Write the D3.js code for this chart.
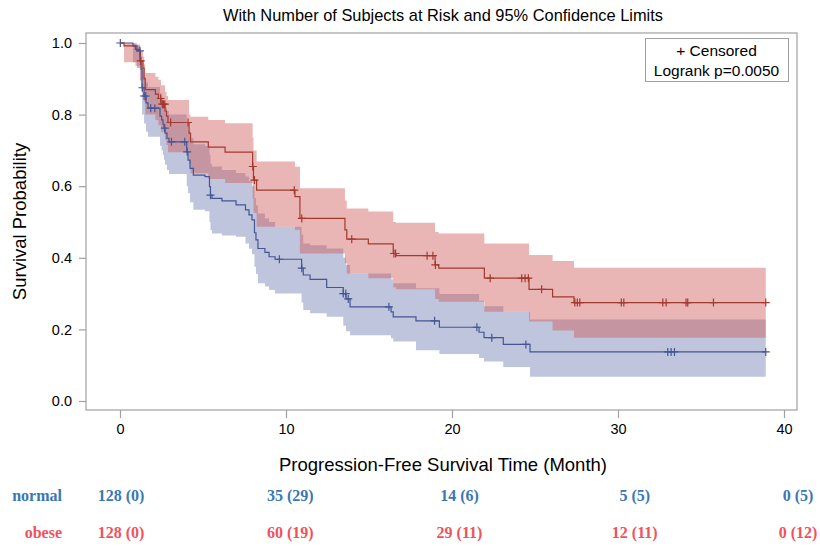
<!DOCTYPE html>
<html>
<head>
<meta charset="utf-8">
<script src="https://cdn.jsdelivr.net/npm/d3@7/dist/d3.min.js"></script>
<style>
  html, body { margin: 0; padding: 0; background: #fff; }
  svg { display: block; font-family: "Liberation Sans", Arial, sans-serif; }
</style>
</head>
<body>
<svg id="chart" width="820" height="548"></svg>
<script>
// Kaplan-Meier estimates (step values start at each time), 95% limits, censor times
const endTime = 38.9;

const normalTime  = [0, 0.78, 1.02, 1.23, 1.27, 1.33, 1.45, 1.57, 1.69, 2.41, 2.51, 2.59, 2.65, 2.71, 2.83, 2.95, 4.02, 4.10, 4.22, 4.42, 5.12, 5.39, 5.45, 5.54, 6.14, 6.99, 7.56, 7.77, 7.95, 8.10, 8.19, 8.31, 8.73, 8.98, 9.34, 10.94, 11.04, 11.45, 12.45, 13.45, 13.61, 13.86, 16.33, 16.46, 17.83, 19.24, 21.63, 21.93, 23.09, 24.70];
const normalSurv  = [1.0, 0.992, 0.978, 0.95, 0.927, 0.875, 0.852, 0.833, 0.818, 0.796, 0.785, 0.773, 0.762, 0.748, 0.734, 0.724, 0.696, 0.673, 0.65, 0.631, 0.627, 0.599, 0.575, 0.566, 0.559, 0.548, 0.534, 0.52, 0.506, 0.47, 0.45, 0.426, 0.415, 0.403, 0.396, 0.371, 0.352, 0.34, 0.317, 0.30, 0.285, 0.263, 0.249, 0.235, 0.224, 0.206, 0.192, 0.177, 0.158, 0.137];
const normalLower = [1.0, 0.946, 0.93, 0.895, 0.865, 0.80, 0.775, 0.752, 0.738, 0.713, 0.70, 0.687, 0.674, 0.66, 0.645, 0.634, 0.60, 0.58, 0.555, 0.534, 0.53, 0.50, 0.478, 0.468, 0.462, 0.459, 0.44, 0.425, 0.41, 0.375, 0.355, 0.329, 0.32, 0.31, 0.30, 0.275, 0.254, 0.245, 0.235, 0.21, 0.195, 0.184, 0.175, 0.166, 0.142, 0.131, 0.12, 0.11, 0.095, 0.068];
const normalUpper = [1.0, 0.999, 0.993, 0.977, 0.962, 0.923, 0.905, 0.89, 0.877, 0.86, 0.85, 0.84, 0.832, 0.82, 0.81, 0.80, 0.775, 0.755, 0.735, 0.717, 0.712, 0.688, 0.663, 0.655, 0.645, 0.637, 0.627, 0.614, 0.60, 0.567, 0.547, 0.524, 0.51, 0.50, 0.487, 0.465, 0.44, 0.435, 0.426, 0.40, 0.38, 0.356, 0.34, 0.329, 0.315, 0.299, 0.28, 0.265, 0.249, 0.228];
const normalCensor = [0.02, 1.2, 1.35, 1.45, 1.55, 1.85, 2.1, 2.7, 3.1, 3.9, 4.05, 5.45, 9.6, 10.95, 13.45, 13.6, 13.75, 16.2, 18.95, 21.5, 22.4, 24.45, 33.0, 33.2, 33.4, 38.9];

const obeseTime  = [0, 0.24, 0.93, 1.2, 1.38, 1.45, 1.52, 2.13, 2.31, 2.47, 2.71, 2.80, 2.89, 4.16, 4.25, 5.32, 6.33, 7.99, 8.04, 8.23, 10.54, 10.84, 13.55, 13.66, 14.96, 16.46, 16.63, 18.98, 19.2, 21.95, 24.64, 26.06, 27.35];
const obeseSurv  = [1.0, 0.992, 0.982, 0.95, 0.93, 0.90, 0.87, 0.857, 0.845, 0.829, 0.81, 0.796, 0.778, 0.748, 0.724, 0.709, 0.695, 0.655, 0.617, 0.589, 0.571, 0.51, 0.478, 0.452, 0.439, 0.412, 0.406, 0.38, 0.371, 0.343, 0.312, 0.291, 0.275];
const obeseLower = [1.0, 0.946, 0.935, 0.895, 0.87, 0.835, 0.80, 0.785, 0.77, 0.752, 0.73, 0.715, 0.695, 0.662, 0.636, 0.62, 0.609, 0.565, 0.525, 0.487, 0.478, 0.412, 0.385, 0.356, 0.343, 0.318, 0.312, 0.285, 0.277, 0.249, 0.222, 0.197, 0.177];
const obeseUpper = [1.0, 0.999, 0.996, 0.978, 0.962, 0.94, 0.916, 0.906, 0.897, 0.882, 0.864, 0.852, 0.841, 0.80, 0.794, 0.785, 0.776, 0.735, 0.70, 0.669, 0.654, 0.594, 0.56, 0.538, 0.529, 0.50, 0.498, 0.472, 0.468, 0.44, 0.408, 0.391, 0.372];
const obeseCensor = [1.25, 2.45, 2.55, 2.62, 2.7, 3.05, 4.1, 8.0, 8.1, 10.5, 10.95, 13.96, 16.5, 16.6, 18.5, 18.85, 19.0, 22.3, 24.2, 24.4, 24.6, 25.4, 27.4, 27.55, 27.7, 30.2, 30.35, 32.7, 32.9, 34.1, 34.2, 35.75, 38.9];

// Subjects at risk (number censored) below the axis
const riskTimes = [0, 10, 20, 30, 40];
const normalAtRisk = [128, 35, 14, 5, 0];
const normalCensored = [0, 29, 6, 5, 5];
const obeseAtRisk = [128, 60, 29, 12, 0];
const obeseCensored = [0, 19, 11, 11, 12];

const xTicks = [0, 10, 20, 30, 40];
const yTicks = [0, 0.2, 0.4, 0.6, 0.8, 1.0];

const titleText = "With Number of Subjects at Risk and 95% Confidence Limits";
const xLabel = "Progression-Free Survival Time (Month)";
const yLabel = "Survival Probability";
const legendLines = ["+ Censored", "Logrank p=0.0050"];

const svg = d3.select("#chart");
const frame = { left: 86, top: 33, right: 797, bottom: 410 };

const x = d3.scaleLinear().domain([0, 40]).range([120, 784]);
const y = d3.scaleLinear().domain([0, 1]).range([401, 43]);

const groups = [
  { name: "normal", time: normalTime, surv: normalSurv, lower: normalLower, upper: normalUpper,
    censor: normalCensor, fill: "#6F7EB3", line: "#445694" },
  { name: "obese", time: obeseTime, surv: obeseSurv, lower: obeseLower, upper: obeseUpper,
    censor: obeseCensor, fill: "#D05B5B", line: "#A23A2E" }
];

function steps(g) {
  const pts = g.time.map((t, i) => ({ t, s: g.surv[i], lo: g.lower[i], hi: g.upper[i] }));
  const last = pts[pts.length - 1];
  pts.push({ t: endTime, s: last.s, lo: last.lo, hi: last.hi });
  return pts;
}

// confidence bands
const area = d3.area()
  .curve(d3.curveStepAfter)
  .x(d => x(d.t))
  .y0(d => y(d.lo))
  .y1(d => y(d.hi));

const bandLayer = svg.append("g");
groups.forEach(g => {
  bandLayer.append("path")
    .datum(steps(g))
    .attr("d", area)
    .attr("fill", g.fill)
    .attr("fill-opacity", 0.45)
    .attr("stroke", "none");
});

// frame / axes
svg.append("rect")
  .attr("x", frame.left).attr("y", frame.top)
  .attr("width", frame.right - frame.left).attr("height", frame.bottom - frame.top)
  .attr("fill", "none").attr("stroke", "#a0a0a0").attr("stroke-width", 1.2);

const xAxis = svg.append("g")
  .attr("transform", `translate(0,${frame.bottom})`)
  .call(d3.axisBottom(x).tickValues(xTicks).tickFormat(d3.format("d")).tickSize(8).tickPadding(6));
const yAxis = svg.append("g")
  .attr("transform", `translate(${frame.left},0)`)
  .call(d3.axisLeft(y).tickValues(yTicks).tickFormat(d3.format(".1f")).tickSize(7).tickPadding(7));
[xAxis, yAxis].forEach(a => {
  a.select(".domain").remove();
  a.selectAll(".tick line").attr("stroke", "#a0a0a0").attr("stroke-width", 1.2);
  a.selectAll(".tick text").attr("fill", "#000").style("font-size", "14.5px")
    .style("font-family", "'Liberation Sans', Arial, sans-serif");
});

// survival curves
const line = d3.line()
  .curve(d3.curveStepAfter)
  .x(d => x(d.t))
  .y(d => y(d.s));

const lineLayer = svg.append("g");
groups.forEach(g => {
  lineLayer.append("path")
    .datum(steps(g))
    .attr("d", line)
    .attr("fill", "none")
    .attr("stroke", g.line)
    .attr("stroke-width", 1.2);

  // censor markers sit on the step value in effect at that time
  const bis = d3.bisector(d => d).right;
  const mk = 4;
  lineLayer.append("g").selectAll("path")
    .data(g.censor)
    .join("path")
    .attr("d", t => {
      const i = Math.max(0, bis(g.time, t) - 1);
      const cx = x(t), cy = y(g.surv[i]);
      return `M${cx - mk},${cy}H${cx + mk}M${cx},${cy - mk}V${cy + mk}`;
    })
    .attr("stroke", g.line)
    .attr("stroke-width", 1.2)
    .attr("fill", "none");
});

// title and axis labels
svg.append("text")
  .attr("x", 443).attr("y", 21)
  .attr("text-anchor", "middle")
  .style("font-size", "16.4px")
  .text(titleText);

svg.append("text")
  .attr("x", (x(0) + x(40)) / 2 - 9).attr("y", 471)
  .attr("text-anchor", "middle")
  .style("font-size", "18.5px")
  .text(xLabel);

svg.append("text")
  .attr("transform", `translate(26,${(frame.top + frame.bottom) / 2}) rotate(-90)`)
  .attr("text-anchor", "middle")
  .style("font-size", "18.5px")
  .text(yLabel);

// legend box
const leg = svg.append("g");
leg.append("rect")
  .attr("x", 645.5).attr("y", 38.5).attr("width", 143).attr("height", 43)
  .attr("fill", "#fff").attr("stroke", "#a0a0a0").attr("stroke-width", 1);
leg.selectAll("text")
  .data(legendLines)
  .join("text")
  .attr("x", 716.5)
  .attr("y", (d, i) => 56 + i * 20)
  .attr("text-anchor", "middle")
  .style("font-size", "15.5px")
  .text(d => d);

// subjects at risk table
const xRisk = d3.scaleLinear().domain([0, 40]).range([121, 798]);
const riskRows = [
  { label: "normal", atRisk: normalAtRisk, censored: normalCensored, color: "#3a77b5", y: 501 },
  { label: "obese", atRisk: obeseAtRisk, censored: obeseCensored, color: "#f1525c", y: 538 }
];
const riskG = svg.append("g")
  .style("font-family", "'Liberation Serif', 'Times New Roman', serif")
  .style("font-weight", "bold")
  .style("font-size", "16px");
riskRows.forEach(r => {
  riskG.append("text")
    .attr("x", 62).attr("y", r.y)
    .attr("text-anchor", "end")
    .attr("fill", r.color)
    .text(r.label);
  riskG.append("g").selectAll("text")
    .data(riskTimes)
    .join("text")
    .attr("x", t => xRisk(t) + (t === 30 ? 6 : 0))
    .attr("y", r.y)
    .attr("text-anchor", "middle")
    .attr("fill", r.color)
    .text((t, i) => `${r.atRisk[i]} (${r.censored[i]})`);
});
</script>
</body>
</html>
